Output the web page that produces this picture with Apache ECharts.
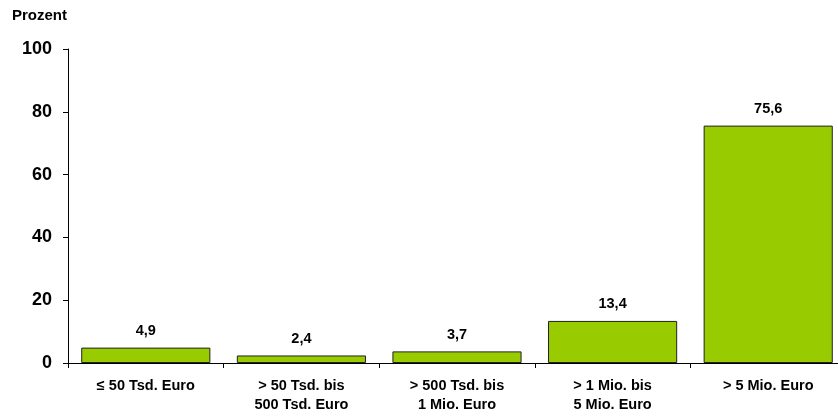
<!DOCTYPE html>
<html>
<head>
<meta charset="utf-8">
<script src="https://cdn.jsdelivr.net/npm/echarts@6/dist/echarts.min.js"></script>
<style>html,body{margin:0;padding:0;background:#fff;overflow:hidden;width:838px;height:418px;}#chart{width:846px;height:418px;}</style>
</head>
<body>
<div id="chart"></div>
<script>
// Size classes (turnover bands)
const categories = [
  '≤ 50 Tsd. Euro',
  '> 50 Tsd. bis\n500 Tsd. Euro',
  '> 500 Tsd. bis\n1 Mio. Euro',
  '> 1 Mio. bis\n5 Mio. Euro',
  '> 5 Mio. Euro'
];
// Share in percent
const shares = [4.9, 2.4, 3.7, 13.4, 75.6];
const yTicks = { min: 0, max: 100, interval: 20 };

const fontFamily = '"Liberation Sans", Arial, sans-serif';
const chart = echarts.init(document.getElementById('chart'), null, { renderer: 'canvas' });
chart.setOption({
  animation: false,
  textStyle: { fontFamily },
  title: {
    text: 'Prozent', left: 12, top: 8, padding: 0,
    textStyle: { fontSize: 15, fontWeight: 'bold', color: '#000', fontFamily }
  },
  // the plot runs a few pixels past the right edge of the visible page
  grid: { left: 68, right: 0, top: 49, bottom: 55, containLabel: false },
  xAxis: {
    type: 'category',
    data: categories,
    axisLine: { lineStyle: { color: '#000', width: 1 } },
    axisTick: { show: true, alignWithLabel: false, length: 5, lineStyle: { color: '#000' } },
    axisLabel: {
      color: '#000', fontSize: 14.5, fontWeight: 'bold', fontFamily,
      lineHeight: 19, margin: 13, interval: 0
    }
  },
  yAxis: {
    type: 'value',
    min: yTicks.min, max: yTicks.max, interval: yTicks.interval,
    axisLine: { show: true, lineStyle: { color: '#000', width: 1 } },
    axisTick: { show: true, length: 5, lineStyle: { color: '#000' } },
    splitLine: { show: false },
    axisLabel: { color: '#000', fontSize: 18, fontWeight: 'bold', fontFamily, margin: 16 }
  },
  series: [{
    type: 'bar',
    data: shares,
    barCategoryGap: '17%',
    itemStyle: { color: '#99cc00', borderColor: '#222', borderWidth: 1 },
    label: {
      show: true, position: 'top', distance: 9,
      color: '#000', fontSize: 14.5, fontWeight: 'bold', fontFamily,
      formatter: p => p.value.toFixed(1).replace('.', ',')
    }
  }]
});
</script>
</body>
</html>
